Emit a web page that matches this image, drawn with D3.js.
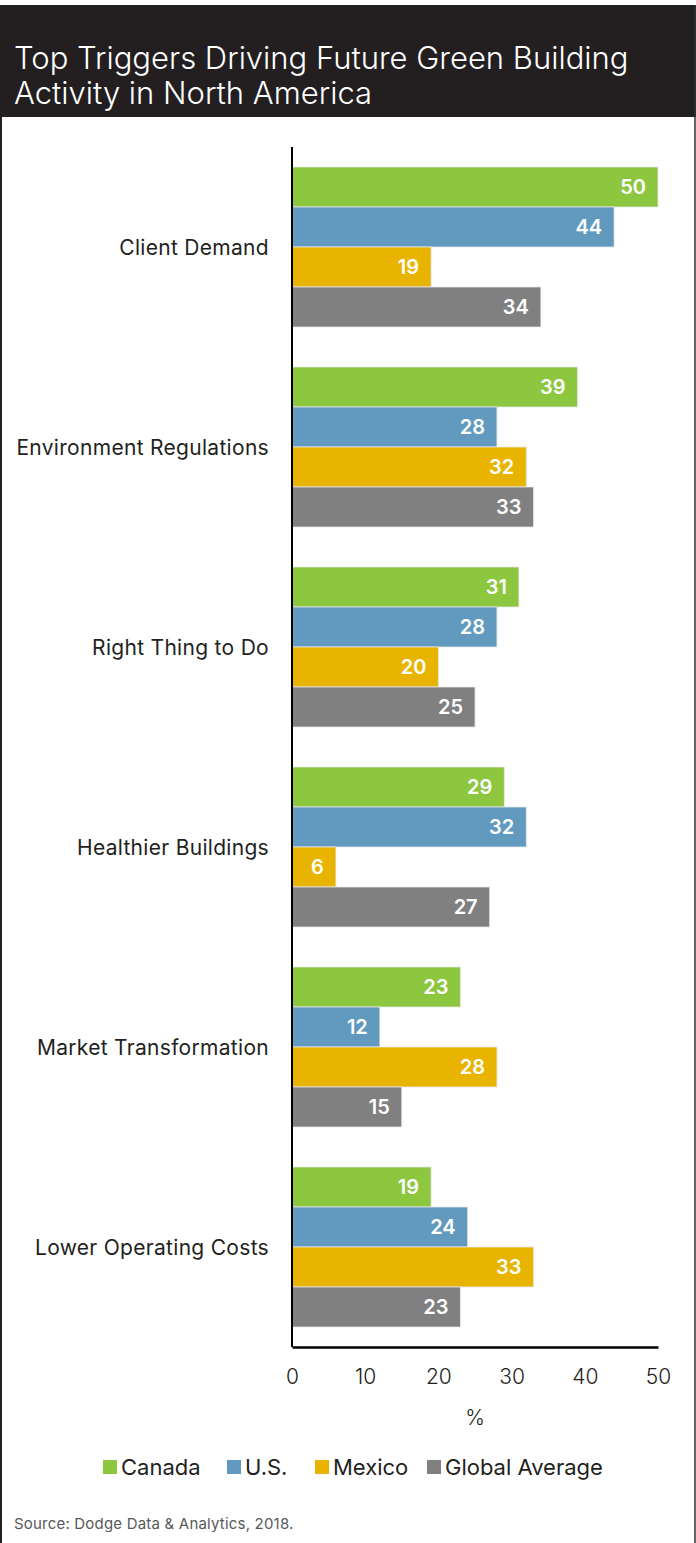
<!DOCTYPE html>
<html>
<head>
<meta charset="utf-8">
<script src="https://cdn.jsdelivr.net/npm/d3@7"></script>
<style>
  body { margin: 0; background: #fff; }
  svg { display: block; font-family: Inter, "Noto Sans", sans-serif; }
</style>
</head>
<body>
<svg id="chart" width="696" height="1543"></svg>
<script>
// data
const categories = ["Client Demand", "Environment Regulations", "Right Thing to Do",
                    "Healthier Buildings", "Market Transformation", "Lower Operating Costs"];
const seriesNames = ["Canada", "U.S.", "Mexico", "Global Average"];
const canada = [50, 39, 31, 29, 23, 19];
const us = [44, 28, 28, 32, 12, 24];
const mexico = [19, 32, 20, 6, 28, 33];
const globalAvg = [34, 33, 25, 27, 15, 23];
const xTicks = [0, 10, 20, 30, 40, 50];
const colors = ["#8dc63f", "#619abe", "#e8b400", "#808080"];

const series = [canada, us, mexico, globalAvg];
const dark = "#231f20";

const svg = d3.select("#chart");
const W = 696, H = 1543;

// frame + header
svg.append("rect").attr("x", 0).attr("y", 0).attr("width", W).attr("height", H).attr("fill", "#fff");
svg.append("rect").attr("x", 0).attr("y", 5).attr("width", W).attr("height", 112).attr("fill", dark);
svg.append("line").attr("x1", 1).attr("x2", 1).attr("y1", 5).attr("y2", H)
   .attr("stroke", dark).attr("stroke-width", 2);
svg.append("line").attr("x1", 695).attr("x2", 695).attr("y1", 5).attr("y2", H)
   .attr("stroke", "#333").attr("stroke-width", 1.5);

const title = svg.append("text").attr("fill", "#fff").attr("font-weight", 300).attr("font-size", 31);
title.append("tspan").attr("x", 14).attr("y", 69).text("Top Triggers Driving Future Green Building");
title.append("tspan").attr("x", 14).attr("y", 104).text("Activity in North America");

const margin = {top: 147, left: 292};
const plotW = 366, plotH = 1200;

const x = d3.scaleLinear().domain([0, 50]).range([0, plotW]);
const y0 = d3.scaleBand().domain(categories).range([0, plotH]).paddingInner(0.2).paddingOuter(0.1);
const y1 = d3.scaleBand().domain(seriesNames).range([0, y0.bandwidth()]);

const g = svg.append("g").attr("transform", `translate(${margin.left},${margin.top})`);

const rows = [];
categories.forEach((c, i) => {
  seriesNames.forEach((s, j) => rows.push({cat: c, name: s, value: series[j][i], color: colors[j]}));
});

const groups = g.selectAll(".bar").data(rows).enter().append("g").attr("class", "bar");
groups.append("rect")
  .attr("x", 0)
  .attr("y", d => y0(d.cat) + y1(d.name))
  .attr("width", d => x(d.value))
  .attr("height", y1.bandwidth())
  .attr("fill", d => d.color)
  .attr("stroke", "#e6e6e6").attr("stroke-width", 0.8);
groups.append("text")
  .attr("x", d => x(d.value) - 12)
  .attr("y", d => y0(d.cat) + y1(d.name) + y1.bandwidth() / 2)
  .attr("dy", "0.36em")
  .attr("text-anchor", "end")
  .attr("fill", "#fff")
  .attr("font-size", 20)
  .attr("font-weight", 600)
  .text(d => d.value);

// category labels
g.selectAll(".cat").data(categories).enter().append("text")
  .attr("class", "cat")
  .attr("x", -23)
  .attr("y", d => y0(d) + y0.bandwidth() / 2)
  .attr("dy", "0.36em")
  .attr("text-anchor", "end")
  .attr("fill", dark)
  .attr("font-size", 21)
  .attr("letter-spacing", 0.3)
  .text(d => d);

// axes
g.append("line").attr("x1", 0).attr("x2", 0).attr("y1", 0).attr("y2", plotH)
  .attr("stroke", "#000").attr("stroke-width", 2);
const xAxis = g.append("g").attr("transform", `translate(0,${plotH})`)
  .call(d3.axisBottom(x).tickValues(xTicks).tickSize(0).tickPadding(22));
xAxis.select(".domain").attr("stroke", "#000").attr("stroke-width", 2.5);
xAxis.selectAll("text").attr("font-size", 21).attr("fill", dark).attr("font-weight", 300)
  .attr("font-family", "Inter, sans-serif");
g.append("text").attr("x", plotW / 2).attr("y", plotH + 78).attr("text-anchor", "middle")
  .attr("font-size", 21).attr("font-weight", 300).attr("fill", dark).text("%");

// legend
const legendX = [103, 227, 315, 427];
const legend = svg.append("g").attr("transform", "translate(0,1467)");
seriesNames.forEach((s, j) => {
  legend.append("rect").attr("x", legendX[j]).attr("y", -7).attr("width", 14).attr("height", 14)
    .attr("fill", colors[j]);
  legend.append("text").attr("x", legendX[j] + 18).attr("y", 0).attr("dy", "0.36em")
    .attr("font-size", 22).attr("fill", dark).text(s);
});

svg.append("text").attr("x", 14).attr("y", 1529).attr("font-size", 15)
  .attr("letter-spacing", 0.2)
  .attr("fill", "#58595b").text("Source: Dodge Data & Analytics, 2018.");
</script>
</body>
</html>
